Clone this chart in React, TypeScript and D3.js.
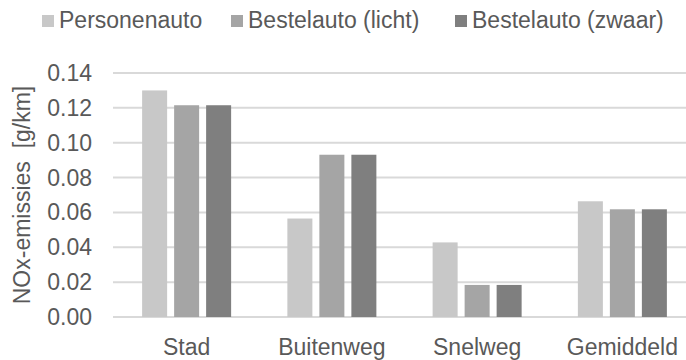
import React from "react";
import * as d3 from "d3";

const categories = ["Stad", "Buitenweg", "Snelweg", "Gemiddeld"];
const seriesNames = ["Personenauto", "Bestelauto (licht)", "Bestelauto (zwaar)"];
const personenauto = [0.13, 0.0565, 0.0428, 0.0664];
const bestelLicht = [0.1215, 0.0931, 0.0184, 0.0618];
const bestelZwaar = [0.1215, 0.0931, 0.0184, 0.0618];
const yTicks = [0, 0.02, 0.04, 0.06, 0.08, 0.1, 0.12, 0.14];
const colors = ["#c8c8c8", "#a5a5a5", "#7f7f7f"];

const W = 686;
const H = 360;
const FONT = "'Liberation Sans', Arial, sans-serif";
const TEXT = "#595959";

export default function App() {
  const series = [personenauto, bestelLicht, bestelZwaar];
  const y = d3.scaleLinear().domain([0, 0.14]).range([317, 73]);
  const x0 = d3.scaleBand<string>().domain(categories).range([114, 695]).padding(0);
  const groupW = 89;
  const x1 = d3
    .scaleBand<number>()
    .domain([0, 1, 2])
    .range([0, groupW])
    .paddingInner(7 / 32)
    .paddingOuter(0);

  const legendX = [42, 231, 455];

  return (
    <svg width={W} height={H} style={{ position: "absolute", left: 0, top: 0, background: "#fff" }}>
      <rect width={W} height={H} fill="#fff" />
      {/* gridlines */}
      {yTicks.map((t) => (
        <line key={t} x1={113} x2={W} y1={y(t)} y2={y(t)} stroke="#d9d9d9" strokeWidth={2} />
      ))}
      {/* bars */}
      {categories.map((c, ci) => {
        const gx = (x0(c) as number) + (x0.bandwidth() - groupW) / 2;
        return series.map((s, si) => (
          <rect
            key={c + si}
            x={gx + (x1(si) as number)}
            y={y(s[ci])}
            width={x1.bandwidth()}
            height={y(0) - y(s[ci])}
            fill={colors[si]}
          />
        ));
      })}
      {/* y tick labels */}
      {yTicks.map((t) => (
        <text
          key={"l" + t}
          x={92}
          y={y(t)}
          dy="0.35em"
          textAnchor="end"
          fontFamily={FONT}
          fontSize={23}
          fill={TEXT}
        >
          {d3.format(".2f")(t)}
        </text>
      ))}
      {/* x labels */}
      {categories.map((c) => (
        <text
          key={"x" + c}
          x={(x0(c) as number) + x0.bandwidth() / 2}
          y={355}
          textAnchor="middle"
          fontFamily={FONT}
          fontSize={23}
          fill={TEXT}
        >
          {c}
        </text>
      ))}
      {/* y title */}
      <text
        transform={`translate(30,195) rotate(-90)`}
        textAnchor="middle"
        fontFamily={FONT}
        fontSize={23}
        fill={TEXT}
        style={{ whiteSpace: "pre" }}
      >
        {"NOx-emissies  [g/km]"}
      </text>
      {/* legend */}
      {seriesNames.map((n, i) => (
        <g key={n}>
          <rect x={legendX[i]} y={15} width={12} height={12} fill={colors[i]} />
          <text x={legendX[i] + 17} y={28} fontFamily={FONT} fontSize={23} fill={TEXT}>
            {n}
          </text>
        </g>
      ))}
    </svg>
  );
}
